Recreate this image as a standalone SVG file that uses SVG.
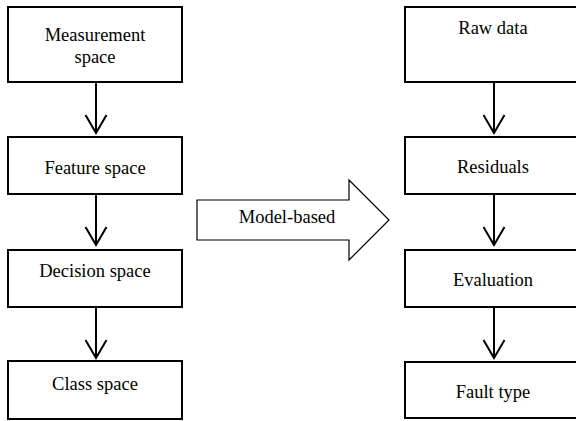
<svg xmlns="http://www.w3.org/2000/svg" width="576" height="421" viewBox="0 0 576 421">
<style>
.box{fill:#fff;stroke:#000;stroke-width:2}
.lbl{font-family:'Liberation Serif','DejaVu Serif',serif;font-size:18.5px;fill:#000;text-anchor:middle}
.con{stroke:#000;stroke-width:2;fill:none}
.big{fill:#fff;stroke:#000;stroke-width:1.2}
</style>
<defs>
<marker id="vh" markerUnits="userSpaceOnUse" markerWidth="24" markerHeight="24" viewBox="-20 -12 22 24" refX="0" refY="0" orient="auto" overflow="visible">
<path d="M-18,-10.5 L0,0 L-18,10.5" fill="none" stroke="#000" stroke-width="2"/>
</marker>
</defs>
<rect width="576" height="421" fill="#fff"/>
<g id="n-measurement"><rect class="box" x="8" y="7" width="174" height="75"/><text class="lbl" x="95" y="41" font-family="Liberation Serif, serif">Measurement</text><text class="lbl" x="95" y="63" font-family="Liberation Serif, serif">space</text></g>
<g id="n-feature"><rect class="box" x="8" y="137" width="174" height="57"/><text class="lbl" x="95" y="174" font-family="Liberation Serif, serif">Feature space</text></g>
<g id="n-decision"><rect class="box" x="8" y="250" width="174" height="57"/><text class="lbl" x="95" y="277" font-family="Liberation Serif, serif">Decision space</text></g>
<g id="n-class"><rect class="box" x="8" y="361" width="174" height="58"/><text class="lbl" x="95" y="390" font-family="Liberation Serif, serif">Class space</text></g>
<g id="n-raw"><rect class="box" x="405" y="7" width="180" height="75"/><text class="lbl" x="493" y="34" font-family="Liberation Serif, serif">Raw data</text></g>
<g id="n-residuals"><rect class="box" x="405" y="137" width="180" height="57"/><text class="lbl" x="493" y="173" font-family="Liberation Serif, serif">Residuals</text></g>
<g id="n-evaluation"><rect class="box" x="405" y="250" width="180" height="57"/><text class="lbl" x="493" y="286" font-family="Liberation Serif, serif">Evaluation</text></g>
<g id="n-fault"><rect class="box" x="405" y="362" width="180" height="56"/><text class="lbl" x="493" y="398" font-family="Liberation Serif, serif">Fault type</text></g>
<g id="n-model"><polygon class="big" points="197,200 349,200 349,180 389,220 349,260 349,240 197,240"/><text class="lbl" x="287" y="223" font-family="Liberation Serif, serif">Model-based</text></g>
<g id="connectors">
<path class="con" d="M96,82 V133" marker-end="url(#vh)"/>
<path class="con" d="M96,194 V245" marker-end="url(#vh)"/>
<path class="con" d="M96,307 V358" marker-end="url(#vh)"/>
<path class="con" d="M494,82 V133" marker-end="url(#vh)"/>
<path class="con" d="M494,194 V245" marker-end="url(#vh)"/>
<path class="con" d="M494,307 V358" marker-end="url(#vh)"/>
</g>
</svg>
